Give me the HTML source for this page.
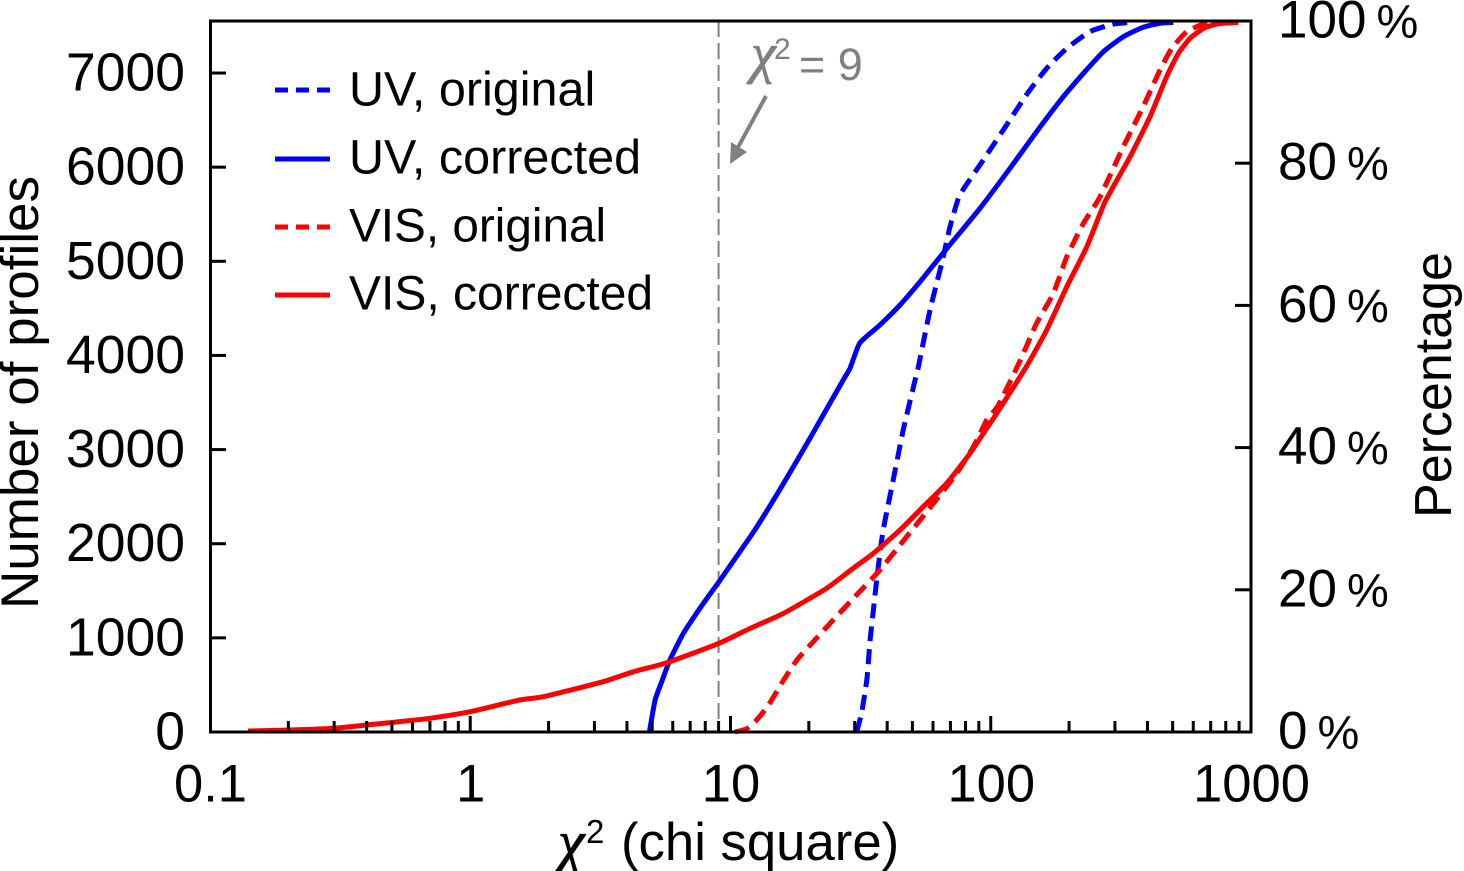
<!DOCTYPE html>
<html>
<head>
<meta charset="utf-8">
<title>Chi square distribution</title>
<style>
html,body{margin:0;padding:0;background:#fff;}
svg{display:block;}
text{font-family:"Liberation Sans",sans-serif;fill:#000;}
.chi{font-family:"Liberation Serif",serif;font-style:italic;}
</style>
</head>
<body>
<svg id="chart" width="1464" height="871" viewBox="0 0 1464 871" xmlns="http://www.w3.org/2000/svg">
  <line id="refline" y1="21" y2="732" stroke="#808080" stroke-width="2" stroke-dasharray="16 6"/>
  <g id="series"></g>
  <g id="axes"></g>
  <rect x="210.5" y="21" width="1040.5" height="711" fill="none" stroke="#000" stroke-width="3"/>

  <text transform="translate(38,392.5) rotate(-90)" text-anchor="middle" font-size="53">Number of profiles</text>
  <text transform="translate(1451,385) rotate(-90)" text-anchor="middle" font-size="52">Percentage</text>
  <g>
    <text class="chi" x="558" y="862" font-size="60" stroke="#000" stroke-width="0.8">χ</text>
    <text x="586" y="843" font-size="33">2</text>
    <text x="621" y="860" font-size="52.7">(chi square)</text>
  </g>

  <g>
    <text class="chi" x="751" y="72" font-size="56" stroke="#808080" stroke-width="0.8" style="fill:#808080">χ</text>
    <text x="774" y="59" font-size="30" style="fill:#808080">2</text>
    <text x="799" y="80" font-size="45" style="fill:#808080">= 9</text>
    <line x1="766" y1="96" x2="736" y2="151" stroke="#808080" stroke-width="4"/>
    <polygon points="730,164 731,142 747,152" fill="#808080"/>
  </g>

  <g>
    <g>
      <line x1="275" x2="330" y1="90" y2="90" stroke="#0000ff" stroke-width="5" stroke-dasharray="13 8"/>
      <text x="349" y="105.5" font-size="48.5">UV, original</text>
    </g>
    <g>
      <line x1="275" x2="330" y1="159" y2="159" stroke="#0000ff" stroke-width="5"/>
      <text x="349" y="173.5" font-size="48.5">UV, corrected</text>
    </g>
    <g>
      <line x1="275" x2="330" y1="227" y2="227" stroke="#ff0000" stroke-width="5" stroke-dasharray="13 8"/>
      <text x="349" y="241.5" font-size="47.7">VIS, original</text>
    </g>
    <g>
      <line x1="275" x2="330" y1="295" y2="295" stroke="#ff0000" stroke-width="5"/>
      <text x="349" y="309.5" font-size="48">VIS, corrected</text>
    </g>
  </g>
</svg>
<script>
var xTickValues = [0.1, 1, 10, 100, 1000];
var xTickLabels = ["0.1", "1", "10", "100", "1000"];
var yTickValues = [0, 1000, 2000, 3000, 4000, 5000, 6000, 7000];
var yTickLabels = ["0", "1000", "2000", "3000", "4000", "5000", "6000", "7000"];
var pctTickValues = [0, 20, 40, 60, 80, 100];
var referenceChi = 9;

var uvCorrectedX = [4.88,5.13,5.44,5.85,6.59,7.63,9.03,12.4,16.0,20.2,27.1,28.8,31.4,37.5,44.8,53.5,68.7,90.9,118.6,150,190,227,271,323,385,447,503];
var uvCorrectedY = [0,340,534,765,1048,1314,1597,2146,2642,3120,3739,3866,4132,4323,4536,4783,5155,5563,5988,6377,6748,6997,7226,7386,7486,7528,7538];

var uvOriginalX = [30.5,31.9,33.4,34.4,35.4,36.7,38.6,42.2,46.1,51.2,52.7,58.4,64.8,69.7,75.1,79.6,93.6,115,137,164,196,240,296,353];
var uvOriginalY = [0,202,552,977,1296,1686,2146,2677,3208,3739,3880,4483,4978,5367,5669,5792,6076,6447,6766,7050,7262,7439,7520,7538];

var visCorrectedX = [0.14,0.203,0.298,0.4,0.506,0.70,1.0,1.55,1.91,3.24,4.23,5.69,9.03,11.9,16,23.4,29.6,35.4,44.8,55,67.7,83.2,96.5,108.5,137,164,196,234,275,343,409,474,526,583,656,738,894];
var visCorrectedY = [11,21,39,74,103,146,216,340,375,534,640,736,942,1101,1261,1526,1739,1898,2146,2393,2642,2960,3226,3438,3880,4270,4730,5155,5633,6111,6536,6961,7209,7368,7474,7520,7538];

var visOriginalX = [10.4,11.5,12.6,14,16,18,20.8,24.8,30.5,37.5,44.8,53.5,63.8,74,85.7,96.5,107,130,150,174,196,227,263,323,385,447,496,566,656,760];
var visOriginalY = [0,32,127,287,552,765,959,1190,1455,1721,1986,2252,2517,2748,3030,3314,3473,3951,4341,4660,5049,5403,5686,6217,6642,7032,7262,7439,7520,7538];

var SVGNS = "http://www.w3.org/2000/svg";
var LEFT = 210, RIGHT = 1251, TOP = 21, BOTTOM = 732;
function xScale(v) { return LEFT + (Math.log10(v) + 1) / 4 * (RIGHT - LEFT); }
function yScale(v) { return BOTTOM - v * 0.09414; }
function pctScale(v) { return BOTTOM - v / 100 * (BOTTOM - TOP); }

var axes = document.getElementById("axes");
var seriesGroup = document.getElementById("series");

function mk(tag, attrs) {
  var el = document.createElementNS(SVGNS, tag);
  for (var k in attrs) el.setAttribute(k, attrs[k]);
  return el;
}

var ref = document.getElementById("refline");
ref.setAttribute("x1", xScale(referenceChi));
ref.setAttribute("x2", xScale(referenceChi));

xTickValues.forEach(function (v, i) {
  var px = xScale(v);
  if (i > 0) {
    var t = mk("line", {x1: px, x2: px, y1: BOTTOM, y2: BOTTOM - 16, stroke: "#000", "stroke-width": 3});
    
    
    axes.appendChild(t);
  }
  var lab = mk("text", {x: px + 0.5, y: 801.5, "text-anchor": "middle", "font-size": 52.5});
  lab.textContent = xTickLabels[i];
  
  
  axes.appendChild(lab);
  if (i < xTickValues.length - 1) {
    for (var m = 2; m <= 9; m++) {
      var mx = xScale(v * m);
      var mt = mk("line", {x1: mx, x2: mx, y1: BOTTOM, y2: BOTTOM - 11, stroke: "#000", "stroke-width": 3});
      
      
      axes.appendChild(mt);
    }
  }
});

yTickValues.forEach(function (v, i) {
  var py = yScale(v);
  if (i > 0) {
    var t = mk("line", {x1: LEFT, x2: LEFT + 16, y1: py, y2: py, stroke: "#000", "stroke-width": 3});
    
    
    axes.appendChild(t);
  }
  var lab = mk("text", {x: 185, y: py + 17.5, "text-anchor": "end", "font-size": 53.5});
  lab.textContent = yTickLabels[i];
  
  
  axes.appendChild(lab);
});

pctTickValues.forEach(function (v) {
  var py = pctScale(v);
  if (v > 0 && v < 100) {
    var t = mk("line", {x1: RIGHT - 16, x2: RIGHT, y1: py, y2: py, stroke: "#000", "stroke-width": 3});
    
    
    axes.appendChild(t);
  }
  var lab = mk("text", {x: 1278, y: py + 16.5, "font-size": 53});
  lab.textContent = String(v);
  
  
  var pct = mk("tspan", {dx: 10, "font-size": 47});
  pct.textContent = "%";
  lab.appendChild(pct);
  axes.appendChild(lab);
});

function smoothPath(xs, ys) {
  var pts = xs.map(function (x, i) { return [xScale(x), yScale(ys[i])]; });
  var d = "M" + pts[0][0].toFixed(1) + " " + pts[0][1].toFixed(1);
  var k = 0.09;
  for (var i = 0; i < pts.length - 1; i++) {
    var p0 = pts[Math.max(i - 1, 0)], p1 = pts[i], p2 = pts[i + 1], p3 = pts[Math.min(i + 2, pts.length - 1)];
    d += "C" + (p1[0] + (p2[0] - p0[0]) * k).toFixed(1) + " " + (p1[1] + (p2[1] - p0[1]) * k).toFixed(1) +
         " " + (p2[0] - (p3[0] - p1[0]) * k).toFixed(1) + " " + (p2[1] - (p3[1] - p1[1]) * k).toFixed(1) +
         " " + p2[0].toFixed(1) + " " + p2[1].toFixed(1);
  }
  return d;
}

function drawSeries(xs, ys, color, dashed, name) {
  var p = mk("path", {d: smoothPath(xs, ys), fill: "none", stroke: color, "stroke-width": 5, "stroke-linejoin": "round"});
  if (dashed) p.setAttribute("stroke-dasharray", "15 8");
  
  
  seriesGroup.appendChild(p);
}

drawSeries(uvOriginalX, uvOriginalY, "#0000ff", true, "uv-original-line");
drawSeries(uvCorrectedX, uvCorrectedY, "#0000ff", false, "uv-corrected-line");
drawSeries(visOriginalX, visOriginalY, "#ff0000", true, "vis-original-line");
drawSeries(visCorrectedX, visCorrectedY, "#ff0000", false, "vis-corrected-line");
</script>
</body>
</html>
